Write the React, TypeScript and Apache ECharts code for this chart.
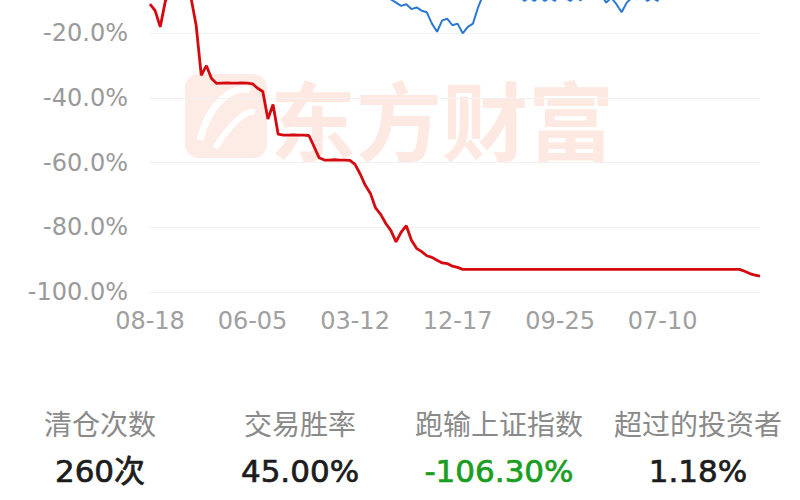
import React, { useEffect, useRef } from "react";
import * as echarts from "echarts";

// x-axis tick labels (one every 20 points)
const tickLabels = ["08-18", "06-05", "03-12", "12-17", "09-25", "07-10"];

// strategy cumulative return (%), red line
const strategy = [
  -11, -13, -18, -10, -7, -5, -4, -6, -9, -17.5,
  -33, -30, -34, -35.5, -35.4, -35.3, -35.4, -35.4, -35.3, -35.4,
  -35.6, -37, -38, -46.5, -42, -51.2, -51.5, -51.5, -51.4, -51.5,
  -51.5, -51.6, -55, -58.5, -59.2, -59.2, -59.1, -59.2, -59.2, -59.3,
  -60.5, -63.5, -67, -69.5, -74, -76, -78.8, -81, -84.5, -81.5,
  -79.5, -84, -86.5, -87.5, -88.8, -89.3, -90.2, -91, -91.2, -92,
  -92.4, -93, -93, -93, -93, -93, -93, -93, -93, -93,
  -93, -93, -93, -93, -93, -93, -93, -93, -93, -93,
  -93, -93, -93, -93, -93, -93, -93, -93, -93, -93,
  -93, -93, -93, -93, -93, -93, -93, -93, -93, -93,
  -93, -93, -93, -93, -93, -93, -93, -93, -93, -93,
  -93, -93, -93, -93, -93, -93, -93.6, -94.3, -94.8, -95.1,
];

// Shanghai composite cumulative return (%), blue line
const index = [
  0, -1, 1, 3, 2, 4, 6, 5, 3, 1,
  -1, 0, 2, 4, 3, 1, -1, -3, -2, 0,
  1, -1, -3, -2, -4, -3, -5, -4, -2, -3,
  -5, -6, -4, -3, -5, -6, -4, -5, -7, -6,
  -5, -6, -7, -6, -7, -7.5, -8, -9.5, -10.5, -11.5,
  -11, -12.5, -12, -13, -13.5, -17, -19.5, -16, -15.5, -17.5,
  -17, -20, -18, -17, -12, -8, -5, -3, -6, -4,
  -7, -9.5, -8, -10, -9, -10, -8.5, -10, -9, -10,
  -7, -9, -10, -8.5, -9.8, -8, -6, -5, -8, -10.5,
  -9, -11, -13.5, -10.5, -9, -9.5, -8, -10, -9, -10,
  -7, -5, -3, -4, -2, -3, -5, -4, -2, -1,
  -3, -2, -4, -3, -1, -2, -4, -5, -3, -4,
];

// summary stats
const statLabels = ["清仓次数", "交易胜率", "跑输上证指数", "超过的投资者"];
const statValues = ["260次", "45.00%", "-106.30%", "1.18%"];
const statColors = ["#1c1c1c", "#1c1c1c", "#1a9e22", "#1c1c1c"];

const categories = strategy.map((_, i) => {
  const seg = Math.floor(i / 20);
  const off = i % 20;
  return off === 0 ? tickLabels[seg] : `${tickLabels[seg]}+${off}`;
});

const FONT = '"DejaVu Sans", "Noto Sans CJK SC", sans-serif';

export default function App() {
  const ref = useRef<HTMLDivElement>(null);

  useEffect(() => {
    if (!ref.current) return;
    const chart = echarts.init(ref.current, null, { renderer: "svg" });
    const colCenters = [100, 300, 499, 698];

    const graphics: any[] = [
      {
        type: "rect",
        z: -10,
        shape: { x: 185, y: 74, width: 82, height: 84, r: 14 },
        style: { fill: "#fdece6" },
        silent: true,
      },
      {
        type: "bezierCurve",
        z: -9,
        shape: { x1: 200, y1: 140, x2: 250, y2: 90, cpx1: 210, cpy1: 100, cpx2: 235, cpy2: 85 },
        style: { stroke: "#ffffff", lineWidth: 7, fill: null },
        silent: true,
      },
      {
        type: "bezierCurve",
        z: -9,
        shape: { x1: 215, y1: 148, x2: 255, y2: 112, cpx1: 230, cpy1: 125, cpx2: 245, cpy2: 110 },
        style: { stroke: "#ffffff", lineWidth: 6, fill: null },
        silent: true,
      },
      {
        type: "text",
        z: -10,
        x: 442,
        y: 117,
        style: {
          text: "东方财富",
          fill: "#fde9e1",
          font: 'bold 86px "Noto Sans CJK SC", sans-serif',
          align: "center",
          verticalAlign: "middle",
        },
        silent: true,
      },
    ];

    statLabels.forEach((t, i) => {
      graphics.push({
        type: "text",
        x: colCenters[i],
        y: 423,
        style: {
          text: t,
          fill: "#8a8a8a",
          font: `28px "Noto Sans CJK SC", sans-serif`,
          align: "center",
          verticalAlign: "middle",
        },
      });
      graphics.push({
        type: "text",
        x: colCenters[i],
        y: 471,
        style: {
          text: statValues[i],
          fill: statColors[i],
          stroke: statColors[i],
          lineWidth: 0.7,
          font: `31px "DejaVu Sans", "Noto Sans CJK SC", sans-serif`,
          align: "center",
          verticalAlign: "middle",
        },
      });
    });

    chart.setOption({
      animation: false,
      backgroundColor: "#ffffff",
      grid: { left: 150, right: 40, top: 1, height: 291, containLabel: false },
      xAxis: {
        type: "category",
        data: categories,
        boundaryGap: false,
        axisLine: { show: false },
        axisTick: { show: false },
        axisLabel: {
          interval: 19,
          color: "#a0a0a0",
          fontSize: 24,
          fontFamily: FONT,
          margin: 17,
          formatter: (v: string) => v.split("+")[0],
        },
        splitLine: { show: false },
      },
      yAxis: {
        type: "value",
        min: -100,
        max: -10,
        interval: 20,
        axisLine: { show: false },
        axisTick: { show: false },
        axisLabel: {
          color: "#9a9a9a",
          fontSize: 24,
          fontFamily: FONT,
          margin: 22,
          formatter: (v: number) => (v > -20 ? "" : v.toFixed(1) + "%"),
        },
        splitLine: {
          lineStyle: {
            color: ["#f1f1f1", "#f1f1f1", "#f1f1f1", "#f1f1f1", "#f1f1f1", "rgba(0,0,0,0)"],
            width: 1,
          },
        },
      },
      graphic: graphics,
      series: [
        {
          type: "line",
          data: index,
          showSymbol: false,
          lineStyle: { color: "#2a78d4", width: 2 },
          z: 2,
        },
        {
          type: "line",
          data: strategy,
          showSymbol: false,
          lineStyle: { color: "#d40a10", width: 2.8 },
          z: 3,
        },
      ],
    });
    return () => chart.dispose();
  }, []);

  return (
    <div
      ref={ref}
      style={{ position: "fixed", left: 0, top: 0, width: 800, height: 500, background: "#fff" }}
    />
  );
}
